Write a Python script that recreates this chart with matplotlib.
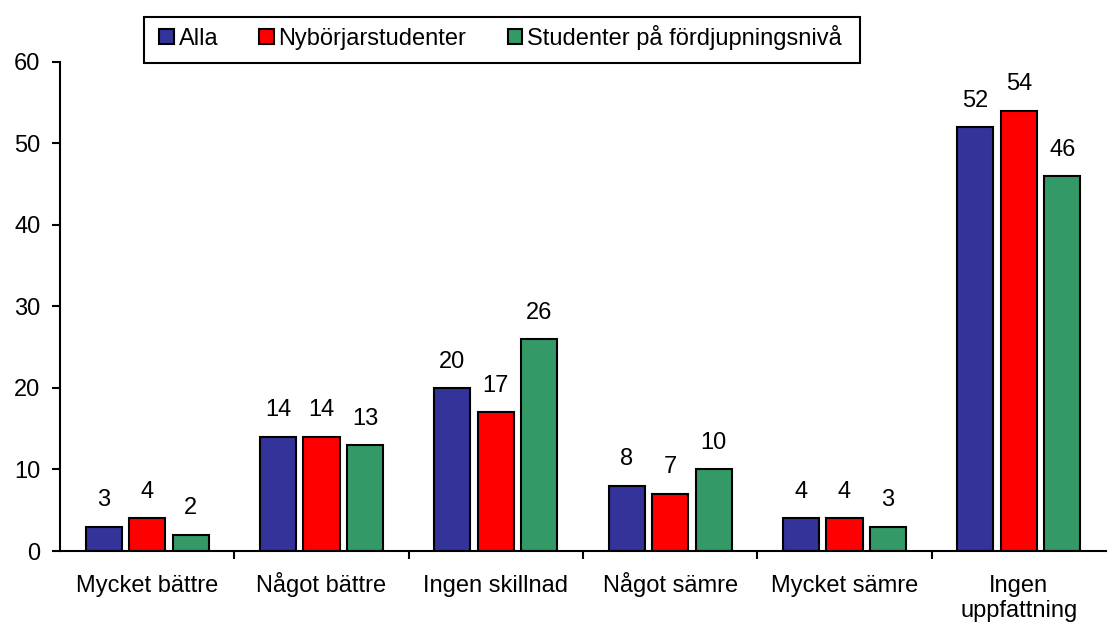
import matplotlib
matplotlib.use("Agg")
import matplotlib.pyplot as plt
from matplotlib.patches import Rectangle
import numpy as np

plt.rcParams['font.family'] = ['Liberation Sans', 'DejaVu Sans']

categories = ["Mycket bättre", "Något bättre", "Ingen skillnad", "Något sämre",
              "Mycket sämre", "Ingen\nuppfattning"]
series_names = ["Alla", "Nybörjarstudenter", "Studenter på fördjupningsnivå"]
alla = [3, 14, 20, 8, 4, 52]
nyborjare = [4, 14, 17, 7, 4, 54]
fordjupning = [2, 13, 26, 10, 3, 46]
colors = ["#333399", "#FF0000", "#339966"]

FS = 17
LABEL_PAD = 29.5   # points from the axis line to the first baseline
LINESPACING = 1.2

fig = plt.figure(figsize=(11.16, 6.27), dpi=100)
ax = fig.add_axes([0.0538, 0.1212, 0.9372, 0.7800])

x = np.arange(len(categories))
width = 0.207
step = 0.25
handles = []
for i, (vals, name, col) in enumerate(zip([alla, nyborjare, fordjupning], series_names, colors)):
    pos = x + (i - 1) * step
    bars = ax.bar(pos, vals, width, color=col, edgecolor="black", linewidth=1.5, label=name)
    handles.append(bars)
    for p, v in zip(pos, vals):
        ax.text(p, v + 1.9, f"{v}", ha="center", va="bottom", fontsize=FS)

ax.set_xlim(-0.5, len(categories) - 0.5)
ax.set_ylim(0, 60)
ax.set_yticks(range(0, 61, 10))
ax.set_xticks(x)
ax.set_xticklabels(categories, fontsize=FS, linespacing=LINESPACING)
ax.set_xticks(np.arange(0.5, len(categories) - 0.5, 1), minor=True)
ax.tick_params(axis="x", which="major", length=0, pad=LABEL_PAD)
ax.tick_params(axis="x", which="minor", length=6, width=1.5, direction="out")
ax.tick_params(axis="y", length=6, width=1.5, direction="out", labelsize=FS, pad=8)

# Baseline-align the category labels; a two-line label is pushed down by
# its extra lines so that its first line shares the common baseline.
fig.canvas.draw()
renderer = fig.canvas.get_renderer()
line_h = None
for tick, lab in zip(ax.xaxis.get_major_ticks(), categories):
    tick.label1.set_verticalalignment("baseline")
    n_extra = lab.count("\n")
    if n_extra:
        t = tick.label1
        single = t.get_text().split("\n")[0]
        t_full = t.get_window_extent(renderer).height
        t.set_text(single)
        t_one = t.get_window_extent(renderer).height
        t.set_text(lab)
        shift_px = (t_full - t_one)
        tick.set_pad(LABEL_PAD + shift_px * 72 / fig.dpi)
        tick.label1.set_verticalalignment("baseline")

for s in ["top", "right"]:
    ax.spines[s].set_visible(False)
for s in ["left", "bottom"]:
    ax.spines[s].set_linewidth(1.5)

leg = fig.legend(handles=handles, loc="center", bbox_to_anchor=(0.4485, 0.940), ncol=3,
                 fontsize=FS, frameon=False,
                 handlelength=0.6, handleheight=0.6, handletextpad=0.21,
                 columnspacing=1.75, borderpad=0.0, borderaxespad=0)

# Legend frame: wider horizontal padding than vertical
fig.canvas.draw()
bb = leg.get_window_extent().transformed(fig.transFigure.inverted())
W, H = fig.get_size_inches() * fig.dpi
px_l, px_r, py_top, py_bot = 15 / W, 18 / W, 8 / H, 13 / H
fig.add_artist(Rectangle((bb.x0 - px_l, bb.y0 - py_bot), bb.width + px_l + px_r,
                         bb.height + py_top + py_bot, transform=fig.transFigure,
                         fill=False, edgecolor="black", linewidth=1.5))

fig.savefig("out.png", dpi=100)
